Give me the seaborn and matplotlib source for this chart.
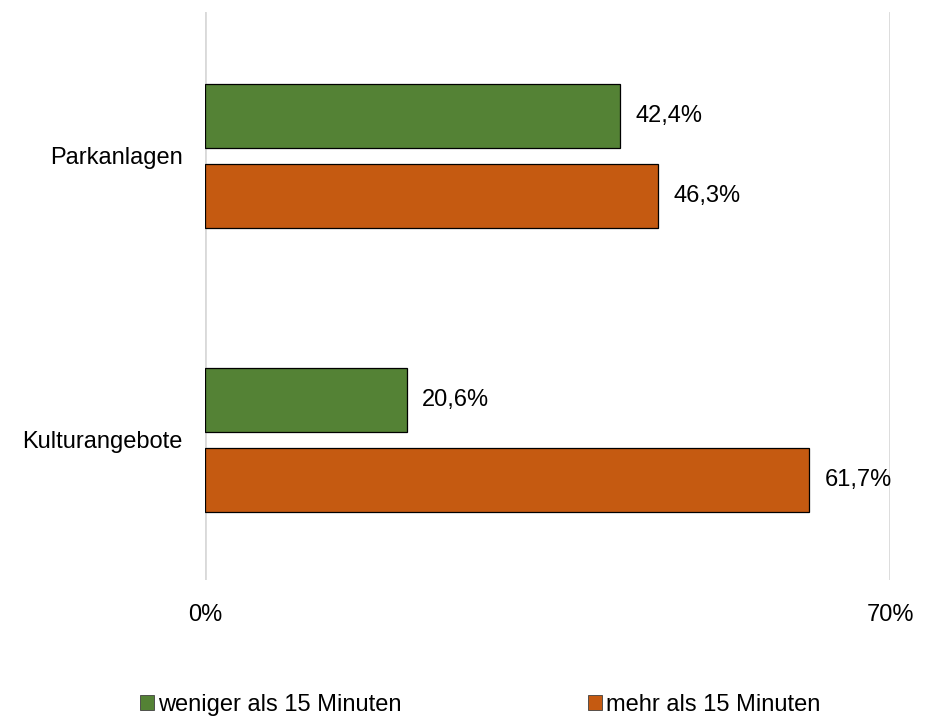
import matplotlib
matplotlib.use("Agg")
import matplotlib.pyplot as plt
import seaborn as sns
import pandas as pd
from matplotlib.patches import Patch

categories = ["Parkanlagen", "Kulturangebote"]
series_names = ["weniger als 15 Minuten", "mehr als 15 Minuten"]
weniger = [42.4, 20.6]
mehr = [46.3, 61.7]
colors = ["#548235", "#C55A11"]
xtick_vals = [0, 70]
xtick_labels = ["0%", "70%"]

sns.set_theme(style="white")
plt.rcParams['font.family'] = ['Liberation Sans', 'DejaVu Sans']
FS = 17

df = pd.DataFrame({
    "Kategorie": categories * 2,
    "Serie": [series_names[0]] * 2 + [series_names[1]] * 2,
    "Wert": weniger + mehr,
})

fig = plt.figure(figsize=(9.3, 7.16), dpi=100)
ax = fig.add_axes([205 / 930, 1 - 580 / 716, 685 / 930, 568 / 716])

sns.barplot(data=df, y="Kategorie", x="Wert", hue="Serie", order=categories,
            hue_order=series_names, palette=colors, saturation=1, orient="h",
            width=0.56, gap=0.19, edgecolor="black", linewidth=0.9, ax=ax,
            legend=False, zorder=3)

ax.set_xlim(0, 70)
ax.set_ylim(1.493, -0.507)
ax.set_xticks(xtick_vals)
ax.set_xticklabels(xtick_labels, fontsize=FS)
ax.tick_params(axis="x", length=0, pad=17)
ax.tick_params(axis="y", length=0, pad=16, labelsize=FS)
for lab in ax.get_yticklabels() + ax.get_xticklabels():
    lab.set_color("black")
ax.set_xlabel("")
ax.set_ylabel("")
for s in ax.spines.values():
    s.set_visible(False)
for v in xtick_vals:
    ax.axvline(v, color="#D9D9D9", linewidth=2, zorder=1)

for cont in ax.containers:
    for bar in cont:
        w = bar.get_width()
        ax.text(w + 1.6, bar.get_y() + bar.get_height() / 2,
                f"{w:.1f}%".replace(".", ","), va="center", ha="left",
                fontsize=FS, color="black")

handles = [Patch(facecolor=c, edgecolor="#404040", linewidth=0.6) for c in colors]
leg = fig.legend(handles, series_names, loc="center", bbox_to_anchor=(480 / 930, 1 - 705 / 716),
                 ncol=2, frameon=False, fontsize=FS, handlelength=0.6, handleheight=0.6,
                 handletextpad=0.17, columnspacing=7.9)
for t in leg.get_texts():
    t.set_color("black")

fig.savefig("out.png", dpi=100)
